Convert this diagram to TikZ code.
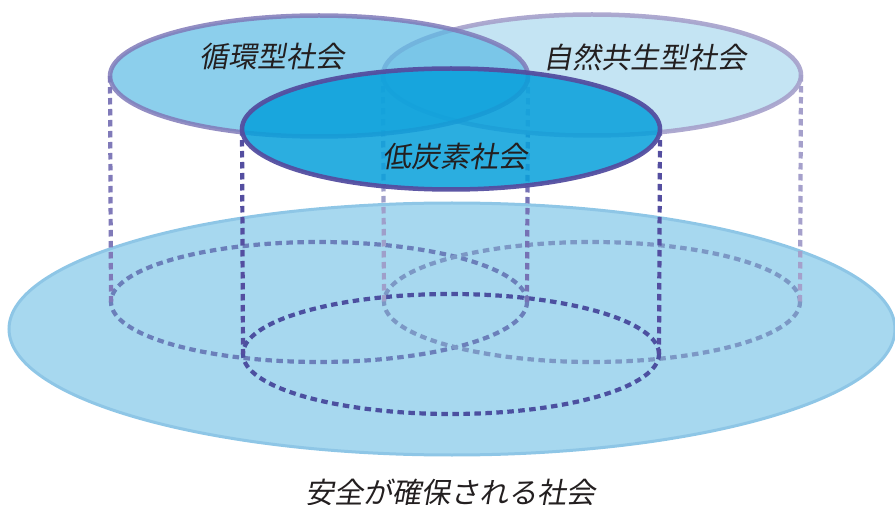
\documentclass[tikz,border=0pt]{standalone}
\usepackage{fontspec}
\newfontfamily\jp[FakeSlant=0.18]{Noto Sans CJK JP}
\usetikzlibrary{shapes.geometric}
\pgfdeclarelayer{back}
\pgfdeclarelayer{mid}
\pgfsetlayers{back,mid,main}
\definecolor{bigfill}{RGB}{167,216,239}
\definecolor{bigdraw}{RGB}{142,198,230}
\definecolor{lfill}{RGB}{91,186,228}
\definecolor{rfill}{RGB}{157,210,235}
\definecolor{cfill}{RGB}{6,160,219}
\definecolor{ldraw}{RGB}{128,122,185}
\definecolor{rdraw}{RGB}{165,160,203}
\definecolor{cdraw}{RGB}{84,78,160}
\definecolor{ldash}{RGB}{107,127,186}
\definecolor{rdash}{RGB}{124,152,197}
\definecolor{cdash}{RGB}{76,80,160}
\definecolor{txt}{RGB}{35,31,32}
\begin{document}
\begin{tikzpicture}[x=1pt,y=-1pt,
  topell/.style={ellipse, minimum width=418pt, minimum height=121pt, inner sep=0pt, outer sep=0pt, line width=4.5pt},
  botell/.style={ellipse, minimum width=416pt, minimum height=120pt, inner sep=0pt, outer sep=0pt, draw, line width=4.2pt, dash pattern=on 6.5pt off 4.5pt},
  vline/.style={line width=4.2pt, dash pattern=on 6.5pt off 4.5pt},
  lbl/.style={font=\jp\fontsize{29}{32}\selectfont, text=txt, inner sep=0pt}]
\useasboundingbox (0,0) rectangle (895,505);
% top ellipses
\node[topell, fill=rfill, fill opacity=0.6, draw=rdraw, draw opacity=0.9] (tR) at (592,75) {};
\node[topell, fill=lfill, fill opacity=0.7, draw=ldraw, draw opacity=0.85] (tL) at (319,76) {};
\node[topell, fill=cfill, fill opacity=0.85, draw=cdraw, draw opacity=0.95] (tC) at (451,129) {};
% labels
\node[lbl] (lL) at (272,57) {循環型社会};
\node[lbl] (lR) at (645,57) {自然共生型社会};
\node[lbl] (lC) at (455,157) {低炭素社会};
\node[lbl] (lB) at (450,492) {安全が確保される社会};
\begin{pgfonlayer}{back}
\node[ellipse, minimum width=886pt, minimum height=252pt, inner sep=0pt, fill=bigfill, draw=bigdraw, line width=3pt] (big) at (452,329) {};
\end{pgfonlayer}
\begin{pgfonlayer}{mid}
\node[botell, draw=ldash] (bL) at (319,302) {};
\node[botell, draw=rdash] (bR) at (592,302) {};
\node[botell, draw=cdash] (bC) at (451,354) {};
\draw[vline, draw=ldraw] (tL.west) -- (bL.west);
\draw[vline, draw=ldraw!80!cdash] (tL.east) -- (bL.east);
\draw[vline, draw=rdraw!85!rdash] (tR.west) -- (bR.west);
\draw[vline, draw=rdraw] (tR.east) -- (bR.east);
\draw[vline, draw=cdraw] (tC.west) -- (bC.west);
\draw[vline, draw=cdraw] (tC.east) -- (bC.east);
\end{pgfonlayer}
\end{tikzpicture}
\end{document}
